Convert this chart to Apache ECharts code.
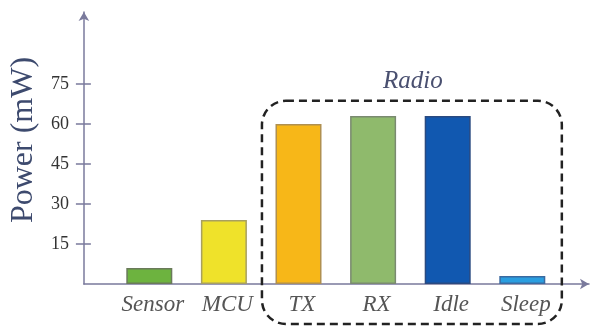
<!DOCTYPE html>
<html>
<head>
<meta charset="utf-8">
<script src="https://cdn.jsdelivr.net/npm/echarts@6/dist/echarts.min.js"></script>
<style>html,body{margin:0;padding:0;background:#fff}#c{width:592px;height:327px}</style>
</head>
<body>
<div id="c"></div>
<script>
const categories = ['Sensor', 'MCU', 'TX', 'RX', 'Idle', 'Sleep'];
const powerValues = [6, 24, 60, 63, 63, 3];
const barColors = ['#6db33f', '#efe22a', '#f7b718', '#8fba6c', '#1158b0', '#2a9ee0'];
const barBorders = ['#6a7a5a', '#a8a060', '#b09050', '#7a8a70', '#2a4a80', '#3a6aa0'];
const yTicks = [15, 30, 45, 60, 75];
const radioGroup = ['TX', 'Sleep'];
const radioLabel = 'Radio';

const chart = echarts.init(document.getElementById('c'), null, {renderer: 'canvas'});
const yMax = 102;
const gridTop = 284 - yMax * 40 / 15;
const axisColor = '#7a7a9c';
const serif = '"Liberation Serif", "DejaVu Serif", serif';

chart.setOption({
  animation: false,
  grid: [
    {left: 82, right: 3, top: gridTop, bottom: 43},
    {left: 112, right: 32.4, top: gridTop, bottom: 43}
  ],
  xAxis: [
    {gridIndex: 0, type: 'value', min: 0, max: 1,
     axisLine: {show: true, symbol: ['none', 'arrow'], symbolSize: [8, 9], lineStyle: {color: axisColor, width: 1.5}},
     axisTick: {show: false}, axisLabel: {show: false}, splitLine: {show: false}},
    {gridIndex: 1, type: 'category', data: categories, boundaryGap: true,
     axisLine: {show: false}, axisTick: {show: false}, splitLine: {show: false},
     axisLabel: {interval: 0, hideOverlap: false, margin: 9, padding: [0, 0, 0, 7], color: '#555', fontFamily: serif, fontStyle: 'italic', fontSize: 23}}
  ],
  yAxis: [
    {gridIndex: 0, type: 'value', min: 0, max: yMax, position: 'left',
     name: 'Power (mW)', nameLocation: 'middle', nameGap: 42, nameRotate: 90,
     nameTextStyle: {color: '#3d4a6e', fontFamily: serif, fontSize: 32, padding: [0, 0, 0, 16]},
     axisLine: {show: true, symbol: ['none', 'arrow'], symbolSize: [8, 9], lineStyle: {color: axisColor, width: 1.5}},
     axisTick: {show: true, length: 8, customValues: yTicks, lineStyle: {color: axisColor, width: 1.5}},
     axisLabel: {customValues: yTicks, margin: 15, color: '#333', fontFamily: serif, fontSize: 18},
     splitLine: {show: false}},
    {gridIndex: 0, type: 'value', min: 0, max: yMax, position: 'left',
     axisLine: {show: false},
     axisTick: {show: true, inside: true, length: 7, customValues: yTicks, lineStyle: {color: axisColor, width: 1.5}},
     axisLabel: {show: false}, splitLine: {show: false}},
    {gridIndex: 1, type: 'value', min: 0, max: yMax, show: false}
  ],
  series: [{
    type: 'bar', xAxisIndex: 1, yAxisIndex: 2, barWidth: 46,
    data: powerValues.map((v, i) => ({value: v, itemStyle: {color: barColors[i], borderColor: barBorders[i], borderWidth: 1.5}}))
  }]
});

function drawBox() {
  const a = chart.convertToPixel({xAxisIndex: 1, yAxisIndex: 2}, [radioGroup[0], 68.7]);
  const b = chart.convertToPixel({xAxisIndex: 1, yAxisIndex: 2}, [radioGroup[1], 0]);
  const step = chart.convertToPixel({xAxisIndex: 1}, categories[1]) - chart.convertToPixel({xAxisIndex: 1}, categories[0]);
  const left = a[0] - step * 0.49;
  const right = b[0] + step * 0.53;
  const top = a[1];
  const bottom = b[1] + 40;
  chart.setOption({
    graphic: [
      {type: 'rect', shape: {x: left, y: top, width: right - left, height: bottom - top, r: 24},
       style: {fill: 'none', stroke: '#222', lineWidth: 2.5, lineDash: [8, 5]}, z: 10},
      {type: 'text', x: (left + right) / 2 + 1, y: top - 19,
       style: {text: radioLabel, fill: '#4a5070', font: 'italic 25px ' + serif, align: 'center', verticalAlign: 'middle'}, z: 10}
    ]
  });
}
drawBox();
</script>
</body>
</html>
